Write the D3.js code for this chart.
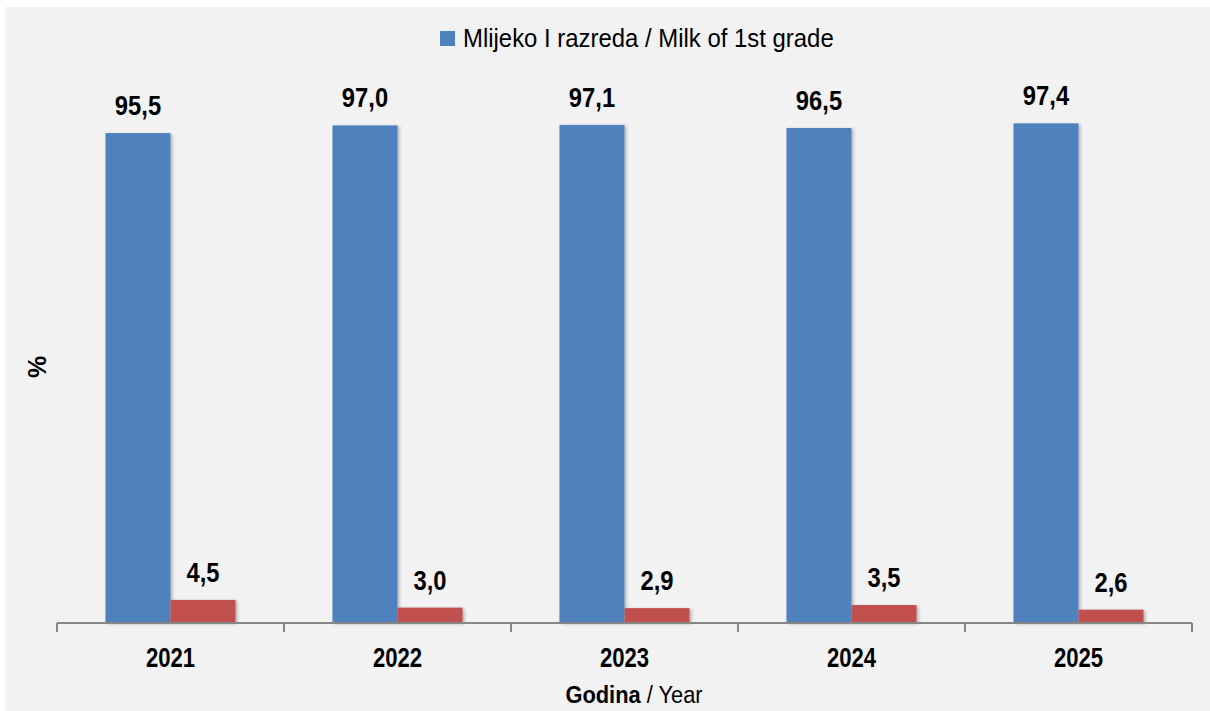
<!DOCTYPE html>
<html>
<head>
<meta charset="utf-8">
<script src="https://cdn.jsdelivr.net/npm/d3@7"></script>
<style>
  html, body { margin: 0; padding: 0; background: #ffffff; }
  svg { display: block; }
  text { font-family: "Liberation Sans Narrow", "Arial Narrow", "Liberation Sans", Arial, sans-serif; }
</style>
</head>
<body>
<svg id="chart" width="1210" height="711"></svg>
<script>
const years = ["2021", "2022", "2023", "2024", "2025"];
const series = ["Mlijeko I razreda / Milk of 1st grade", "Ostalo / Other"];
const firstGrade = [95.5, 97.0, 97.1, 96.5, 97.4];
const other = [4.5, 3.0, 2.9, 3.5, 2.6];
const colors = ["#4f81bd", "#c0504d"];

const svg = d3.select("#chart");
const W = 1210, H = 711;

// panel background
svg.append("rect").attr("x", 5).attr("y", 7).attr("width", W - 5).attr("height", H - 7).attr("fill", "#f2f2f2");

const defs = svg.append("defs");
const f = defs.append("filter").attr("id", "shadow").attr("x", "-10%").attr("y", "-10%").attr("width", "130%").attr("height", "130%");
f.append("feDropShadow").attr("dx", 2).attr("dy", 1).attr("stdDeviation", 1.5).attr("flood-color", "#000").attr("flood-opacity", 0.25);

const x = d3.scaleBand().domain(years).range([57, 1192]).padding(0);
const groupW = x.bandwidth() * 0.573;
const x1 = d3.scaleBand().domain(series).range([0, groupW]).padding(0);
const y = d3.scaleLinear().domain([0, 100]).range([623, 110]);

const data = years.map((yr, i) => ({ year: yr, values: [firstGrade[i], other[i]] }));
const fmt = v => d3.format(".1f")(v).replace(".", ",");

const groups = svg.append("g").selectAll("g").data(data).join("g")
  .attr("transform", d => `translate(${x(d.year) + (x.bandwidth() - groupW) / 2},0)`);

groups.selectAll("rect").data(d => d.values.map((v, j) => ({ v, s: series[j], j }))).join("rect")
  .attr("x", d => x1(d.s))
  .attr("y", d => y(d.v))
  .attr("width", x1.bandwidth())
  .attr("height", d => y(0) - y(d.v))
  .attr("fill", d => colors[d.j])
  .attr("filter", "url(#shadow)");

groups.selectAll("text.lbl").data(d => d.values.map((v, j) => ({ v, s: series[j], j }))).join("text")
  .attr("class", "lbl")
  .attr("transform", d => `translate(${x1(d.s) + x1.bandwidth() / 2},${y(d.v) - 18}) scale(0.88,1)`)
  .attr("text-anchor", "middle")
  .attr("font-size", 27)
  .attr("font-weight", "bold")
  .attr("fill", "#000")
  .text(d => fmt(d.v));

// axis
const axisG = svg.append("g");
axisG.append("line").attr("x1", x.range()[0]).attr("x2", x.range()[1]).attr("y1", y(0)).attr("y2", y(0))
  .attr("stroke", "#868686").attr("stroke-width", 2);
const boundaries = years.map(d => x(d)).concat([x.range()[1]]);
axisG.selectAll("line.tick").data(boundaries).join("line").attr("class", "tick")
  .attr("x1", d => d).attr("x2", d => d).attr("y1", y(0)).attr("y2", y(0) + 9)
  .attr("stroke", "#868686").attr("stroke-width", 2);

const xAxis = d3.axisBottom(x).tickSize(0).tickPadding(0);
const xa = svg.append("g").attr("transform", `translate(0,${y(0)})`).call(xAxis);
xa.select(".domain").remove();
xa.selectAll("text").attr("dy", null).attr("y", null)
  .attr("transform", "translate(0,44) scale(0.82,1)")
  .attr("font-size", 27).attr("font-weight", "bold")
  .attr("fill", "#000").style("font-family", '"Liberation Sans Narrow", "Arial Narrow", "Liberation Sans", Arial, sans-serif');

// x axis title
const xt = svg.append("text").attr("transform", "translate(634,703) scale(0.91,1)").attr("text-anchor", "middle").attr("font-size", 24).attr("fill", "#000");
xt.append("tspan").attr("font-weight", "bold").text("Godina");
xt.append("tspan").text(" / Year");

// y axis title
svg.append("text").attr("transform", "translate(46,367) rotate(-90)").attr("text-anchor", "middle")
  .attr("font-size", 25).attr("font-weight", "bold").attr("fill", "#000").text("%");

// legend (first series only)
const lg = svg.append("g");
lg.append("rect").attr("x", 440).attr("y", 31).attr("width", 15).attr("height", 15).attr("fill", colors[0]);
lg.append("text").attr("transform", "translate(463,47) scale(0.92,1)").attr("font-size", 26).attr("fill", "#000").text(series[0]);
</script>
</body>
</html>
